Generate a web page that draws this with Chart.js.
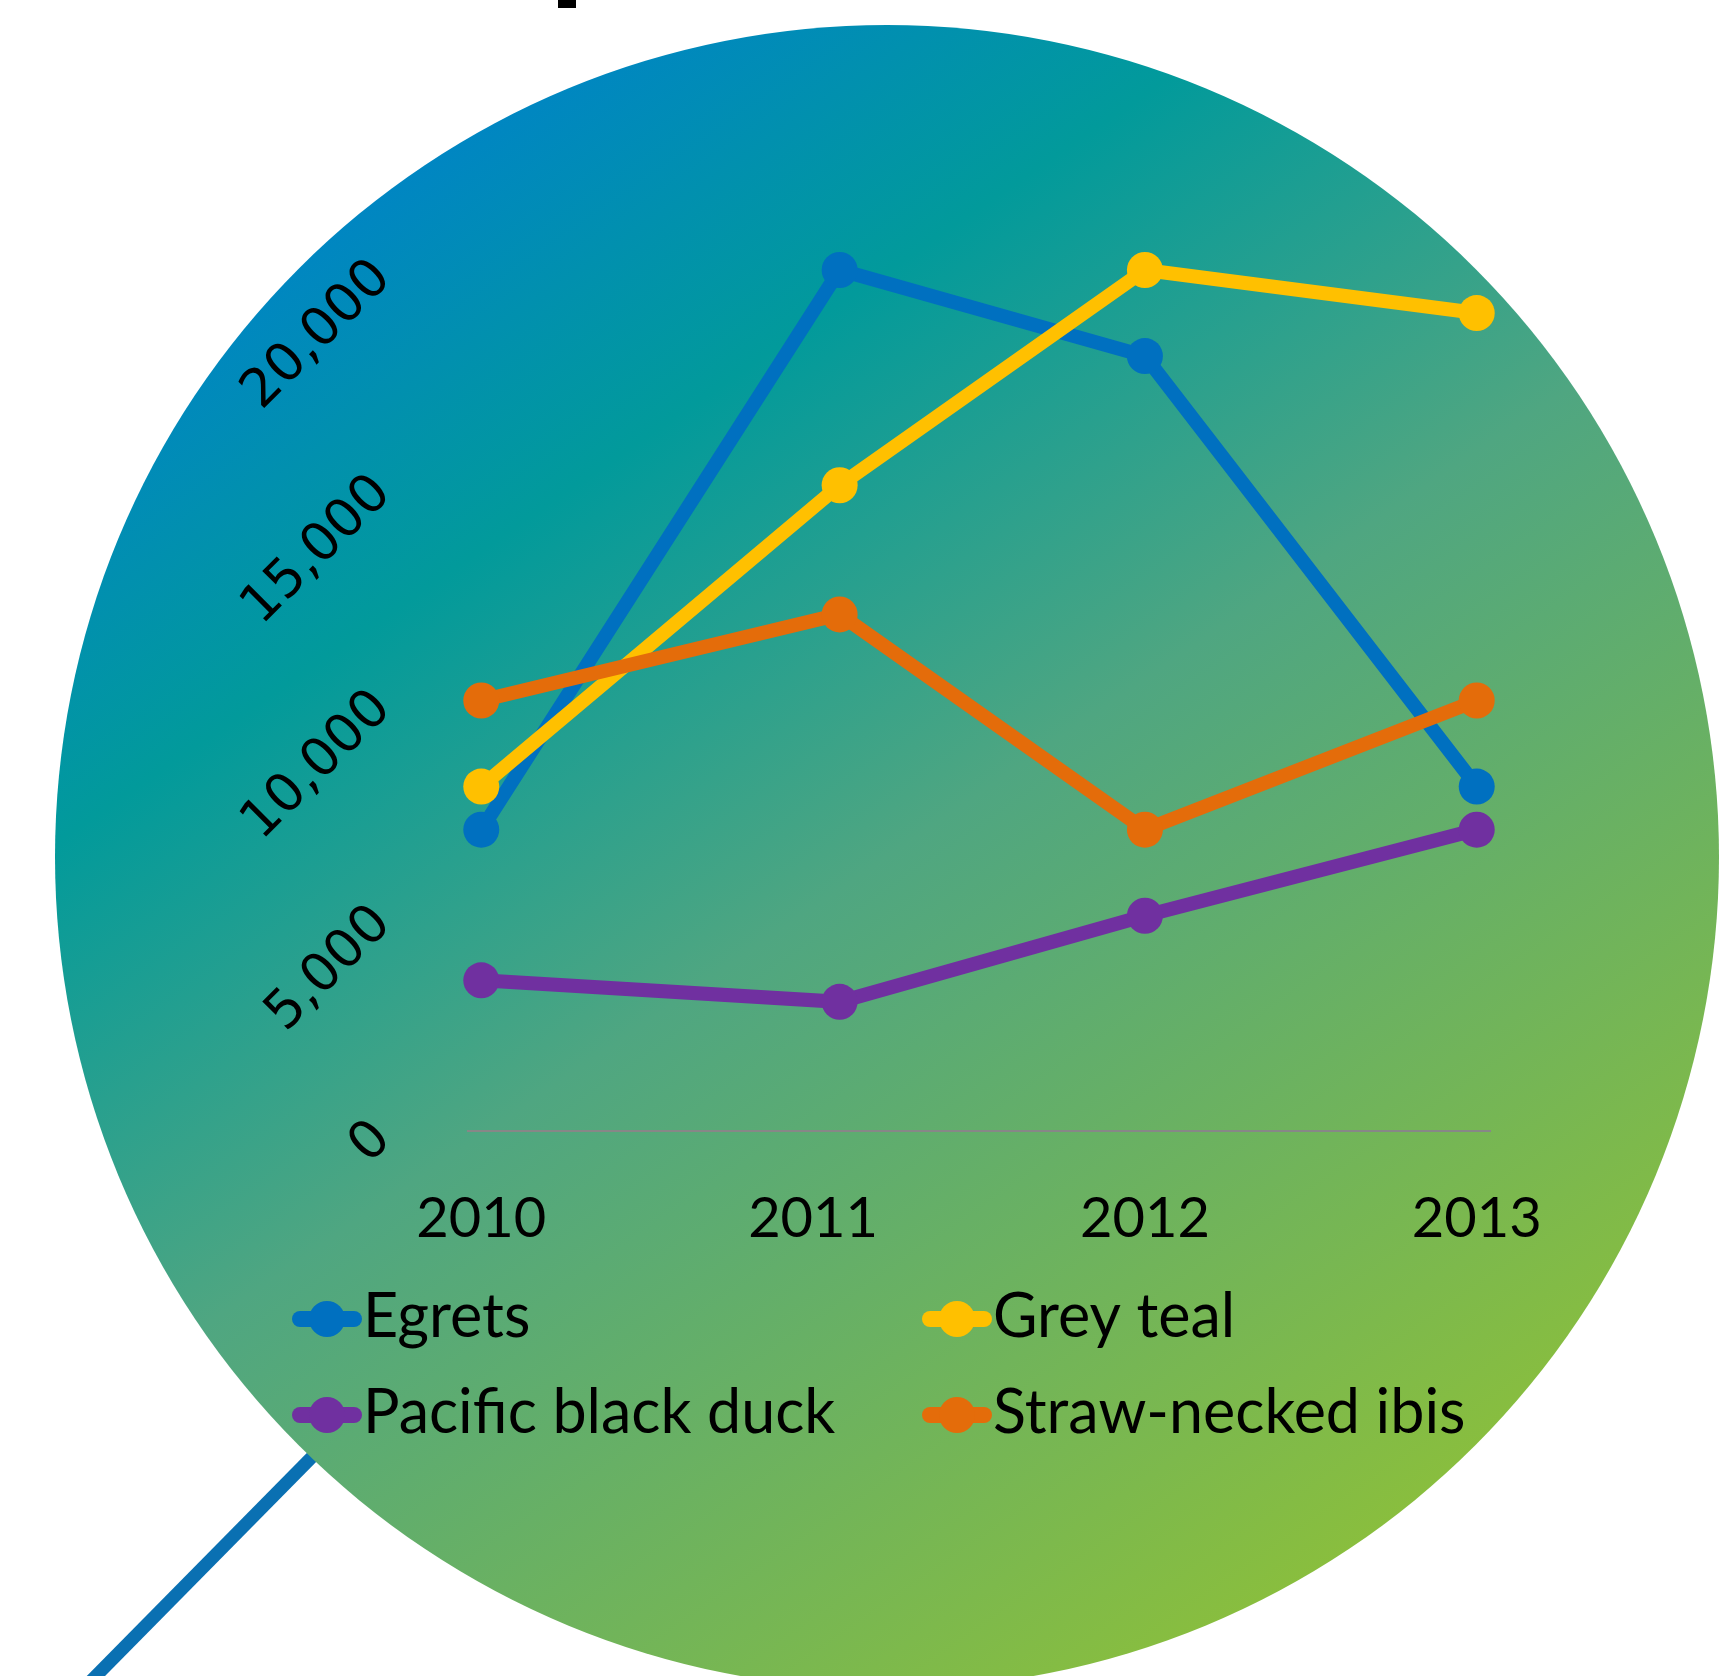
<!DOCTYPE html>
<html>
<head>
<meta charset="utf-8">
<script src="https://cdn.jsdelivr.net/npm/chart.js@4.4.1/dist/chart.umd.min.js"></script>
<style>
  html, body { margin: 0; padding: 0; background: #fff; }
  #wrap { width: 1727px; height: 1676px; position: relative; overflow: hidden; }
</style>
</head>
<body>
<div id="wrap"><canvas id="birdChart" width="1727" height="1676"></canvas></div>
<script>
(function() {
  /* Data */
  var years = ['2010', '2011', '2012', '2013'];
  var yearPos = [2010, 2011.08, 2012, 2013];   /* where the markers sit on the year axis */
  var seriesNames = ['Egrets', 'Grey teal', 'Pacific black duck', 'Straw-necked ibis'];
  var egrets = [7000, 20000, 18000, 8000];
  var greyTeal = [8000, 15000, 20000, 19000];
  var blackDuck = [3500, 3000, 5000, 7000];
  var strawIbis = [10000, 12000, 7000, 10000];
  var yTicks = [0, 5000, 10000, 15000, 20000];

  var seriesValues = [egrets, greyTeal, blackDuck, strawIbis];
  var seriesColors = ['#0070C0', '#FFC000', '#7030A0', '#E46C0A'];

  var labelFont = 'Lato, "Open Sans", sans-serif';

  var canvas = document.getElementById('birdChart');

  /* Background: magnifier handle, gradient disc, clipped title fragment */
  var backdropPlugin = {
    id: 'backdrop',
    beforeDraw: function(chart) {
      var c = chart.ctx;
      c.save();
      c.fillStyle = '#fff';
      c.fillRect(0, 0, chart.width, chart.height);

      /* handle line, mostly hidden behind the disc */
      c.beginPath();
      c.strokeStyle = '#0A70B2';
      c.lineWidth = 13;
      c.moveTo(90, 1682);
      c.lineTo(600, 1165);
      c.stroke();

      /* disc, shaded along a steep diagonal */
      var cx = 887, cy = 857, r = 832;
      var dx = 0.567, dy = 0.825;
      var g = c.createLinearGradient(cx - r * dx, cy - r * dy, cx + r * dx, cy + r * dy);
      g.addColorStop(0, '#0086C2');
      g.addColorStop(0.21, '#029A9B');
      g.addColorStop(0.5, '#4FA681');
      g.addColorStop(1, '#89BE3E');
      c.beginPath();
      c.arc(cx, cy, r, 0, Math.PI * 2);
      c.fillStyle = g;
      c.fill();

      /* descender of the cut-off title */
      c.fillStyle = '#000';
      c.fillRect(558, 0, 18, 8);
      c.restore();
    }
  };

  /* Two-column legend like the original */
  var legendPlugin = {
    id: 'gridLegend',
    afterDraw: function(chart) {
      var c = chart.ctx;
      var colX = [292, 922];
      var rowY = [1337, 1433];
      c.save();
      seriesNames.forEach(function(name, i) {
        var x0 = colX[i % 2];
        var base = rowY[Math.floor(i / 2)];
        var my = base - 18;
        c.strokeStyle = seriesColors[i];
        c.lineWidth = 16;
        c.lineCap = 'round';
        c.beginPath();
        c.moveTo(x0 + 8, my);
        c.lineTo(x0 + 62, my);
        c.stroke();
        c.fillStyle = seriesColors[i];
        c.beginPath();
        c.arc(x0 + 35, my, 18, 0, Math.PI * 2);
        c.fill();
        c.fillStyle = '#000';
        c.font = '61px ' + labelFont;
        c.textAlign = 'left';
        c.textBaseline = 'alphabetic';
        c.fillText(name, x0 + 71, base);
      });
      c.restore();
    }
  };

  var datasets = seriesNames.map(function(name, i) {
    return {
      label: name,
      data: yearPos.map(function(x, k) { return { x: x, y: seriesValues[i][k] }; }),
      borderColor: seriesColors[i],
      backgroundColor: seriesColors[i],
      pointBackgroundColor: seriesColors[i],
      pointBorderWidth: 0,
      pointRadius: 18,
      pointHoverRadius: 18,
      borderWidth: 14,
      tension: 0,
      fill: false,
      clip: false,
      order: seriesNames.length - i   /* later series drawn on top */
    };
  });

  new Chart(canvas, {
    type: 'line',
    data: { datasets: datasets },
    options: {
      responsive: false,
      animation: false,
      layout: { padding: { top: 270, right: 237, bottom: 0, left: 0 } },
      plugins: {
        legend: { display: false },
        tooltip: { enabled: false },
        title: { display: false }
      },
      scales: {
        x: {
          type: 'linear',
          min: 2009.96,
          max: 2013.04,
          afterBuildTicks: function(s) {
            s.ticks = years.map(function(y) { return { value: Number(y) }; });
          },
          afterFit: function(s) { s.height = 545; },
          grid: { display: false, drawTicks: false },
          border: { display: true, color: '#878787', width: 2 },
          ticks: {
            autoSkip: false,
            maxRotation: 0,
            padding: 54,
            color: '#000',
            font: { family: labelFont, size: 56 },
            callback: function(v) { return String(v); }
          }
        },
        y: {
          min: 0,
          max: 20000,
          afterBuildTicks: function(s) {
            s.ticks = yTicks.map(function(v) { return { value: v }; });
          },
          afterFit: function(s) { s.width = 468; },
          grid: { display: false, drawTicks: false },
          border: { display: false },
          ticks: {
            minRotation: 45,
            maxRotation: 45,
            padding: 85,
            color: '#000',
            font: { family: '"DejaVu Sans", sans-serif', size: 53 },
            callback: function(v) { return v.toLocaleString('en-US'); }
          }
        }
      }
    },
    plugins: [backdropPlugin, legendPlugin]
  });
})();
</script>
</body>
</html>
